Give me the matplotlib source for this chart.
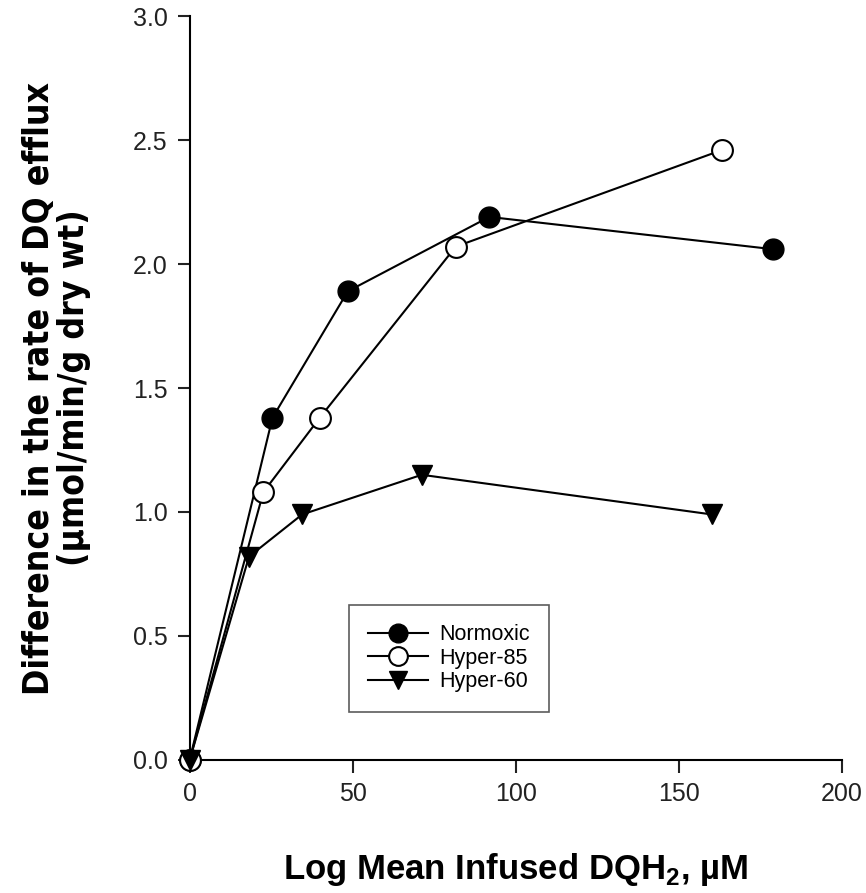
import numpy as np
import matplotlib
matplotlib.use("Agg")
import matplotlib.pyplot as plt

# data
normoxic_x = [0, 25.4, 48.5, 91.9, 178.8]
normoxic_y = [0.0, 1.38, 1.89, 2.19, 2.06]

hyper85_x = [0, 22.6, 39.9, 81.6, 163.3]
hyper85_y = [0.0, 1.08, 1.38, 2.07, 2.46]

hyper60_x = [0, 18.2, 34.5, 71.2, 160.2]
hyper60_y = [0.0, 0.82, 0.99, 1.15, 0.99]

y_ticks = [0.0, 0.5, 1.0, 1.5, 2.0, 2.5, 3.0]
x_ticks = [0, 50, 100, 150, 200]

plt.rcParams["font.family"] = ["Liberation Sans", "DejaVu Sans"]
plt.rcParams["mathtext.fontset"] = "custom"
plt.rcParams["mathtext.bf"] = "Liberation Sans:bold"
plt.rcParams["mathtext.rm"] = "Liberation Sans:bold"

fig = plt.figure(figsize=(8.66, 8.93), dpi=100)
ax = fig.add_axes([0.219, 0.149, 0.753, 0.833])

ms = 15
ax.plot(normoxic_x, normoxic_y, "-o", color="black", lw=1.5,
        mfc="black", mec="black", ms=ms, label="Normoxic", clip_on=False, zorder=3)
ax.plot(hyper85_x, hyper85_y, "-o", color="black", lw=1.5,
        mfc="white", mec="black", mew=1.5, ms=ms, label="Hyper-85", clip_on=False, zorder=3)
ax.plot(hyper60_x, hyper60_y, "-v", color="black", lw=1.5,
        mfc="black", mec="black", ms=ms, label="Hyper-60", clip_on=False, zorder=3)

ax.set_xlim(0, 200)
ax.set_ylim(0, 3.0)
ax.set_xticks(x_ticks)
ax.set_yticks(y_ticks)
ax.set_yticklabels([f"{v:.1f}" for v in y_ticks])

ax.spines["top"].set_visible(False)
ax.spines["right"].set_visible(False)
ax.spines["left"].set_linewidth(1.5)
ax.spines["bottom"].set_linewidth(1.5)
ax.tick_params(direction="out", length=9, width=1.5, labelsize=18, pad=7, colors="#222222")

# Arial Narrow look-alike: condensed bold
narrow = ["Liberation Sans Narrow", "DejaVu Sans"]
ax.set_ylabel("Difference in the rate of DQ efflux\n(µmol/min/g dry wt)",
              fontsize=25.5, fontweight="bold", family=narrow, fontstretch="condensed",
              labelpad=30, linespacing=1.05)
ax.set_xlabel(r"Log Mean Infused DQH$_\mathbf{2}$, µM",
              fontsize=25, fontweight="bold", labelpad=32)

leg = ax.legend(loc="lower left", bbox_to_anchor=(0.244, 0.065), borderaxespad=0,
                fontsize=15.5, frameon=True, fancybox=False, edgecolor="#333333",
                borderpad=0.9, handlelength=2.8, handletextpad=0.5,
                labelspacing=0.12, markerscale=0.9)
leg.get_frame().set_linewidth(1.2)

fig.savefig("out.png", dpi=100)
